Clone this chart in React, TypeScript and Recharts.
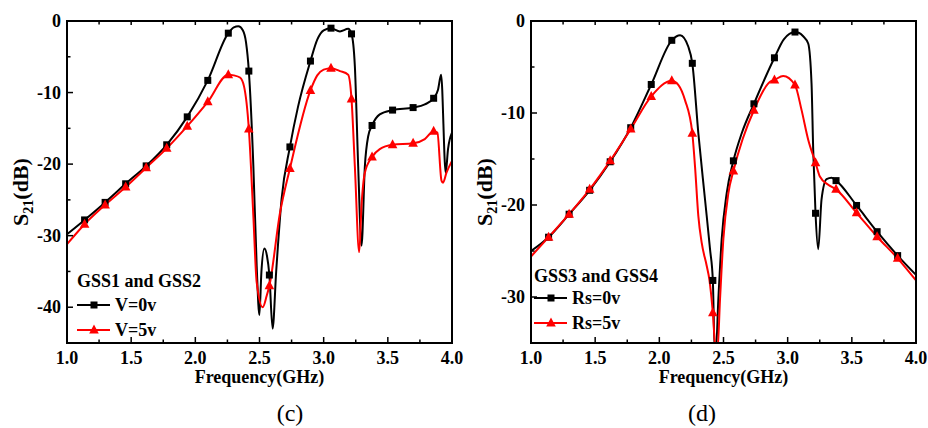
import React from 'react';
import { LineChart, Line, XAxis, YAxis } from 'recharts';

// ---------- data ----------
const markerFreqs = [1.137, 1.297, 1.457, 1.617, 1.777, 1.937, 2.097, 2.257, 2.417, 2.577, 2.737, 2.897, 3.057, 3.217, 3.377, 3.537, 3.697, 3.857];

// panel (c)
const cBlackF = [1.0, 1.137, 1.297, 1.457, 1.617, 1.777, 1.937, 2.097, 2.257, 2.3, 2.335, 2.37, 2.395, 2.417, 2.452, 2.478, 2.499, 2.515, 2.538, 2.558, 2.577, 2.602, 2.63, 2.672, 2.737, 2.8, 2.897, 2.95, 3.0, 3.057, 3.127, 3.191, 3.217, 3.243, 3.269, 3.295, 3.321, 3.347, 3.377, 3.437, 3.537, 3.697, 3.788, 3.857, 3.891, 3.915, 3.951, 3.969, 4.0];
const cBlackV = [-29.8, -27.8, -25.35, -22.75, -20.25, -17.3, -13.4, -8.3, -1.7, -0.9, -0.75, -1.3, -3.0, -7.0, -20.2, -34.2, -41.1, -35.0, -31.8, -32.8, -35.5, -43.0, -35.0, -24.9, -17.6, -12.0, -5.6, -2.6, -1.3, -1.0, -1.45, -1.1, -1.8, -6.3, -20.3, -31.4, -20.3, -16.1, -14.6, -13.05, -12.45, -12.1, -11.65, -10.8, -9.6, -7.5, -21.2, -17.9, -15.6];
const cRedF = [1.0, 1.137, 1.297, 1.457, 1.617, 1.777, 1.937, 2.097, 2.257, 2.3, 2.348, 2.379, 2.417, 2.452, 2.478, 2.525, 2.556, 2.577, 2.66, 2.737, 2.897, 2.95, 3.0, 3.057, 3.127, 3.191, 3.217, 3.243, 3.277, 3.295, 3.321, 3.377, 3.437, 3.537, 3.697, 3.788, 3.857, 3.886, 3.918, 3.93, 3.957, 4.0];
const cRedV = [-31.2, -28.4, -25.7, -23.2, -20.5, -17.8, -14.7, -11.3, -7.5, -7.6, -7.9, -9.1, -15.1, -27.2, -36.5, -40.0, -38.4, -37.0, -26.8, -20.6, -9.7, -7.6, -6.8, -6.6, -7.0, -7.5, -10.9, -20.3, -32.3, -25.8, -21.2, -19.0, -17.9, -17.3, -17.1, -16.5, -15.4, -15.6, -22.3, -22.6, -21.2, -19.55];

// panel (d)
const dBlackF = [1.0, 1.137, 1.297, 1.457, 1.617, 1.777, 1.937, 2.097, 2.162, 2.226, 2.257, 2.304, 2.356, 2.395, 2.417, 2.432, 2.44, 2.46, 2.486, 2.525, 2.577, 2.642, 2.737, 2.897, 2.97, 3.057, 3.09, 3.121, 3.16, 3.186, 3.199, 3.217, 3.238, 3.264, 3.303, 3.342, 3.377, 3.537, 3.697, 3.857, 4.0];
const dBlackV = [-25.0, -23.5, -21.0, -18.4, -15.3, -11.6, -6.9, -2.1, -1.55, -2.8, -4.6, -12.2, -19.4, -24.8, -28.2, -36, -36, -30.2, -23.7, -18.7, -15.2, -12.2, -9.0, -4.0, -2.0, -1.2, -1.3, -1.66, -2.45, -6.8, -14.0, -20.9, -24.8, -19.4, -17.2, -17.05, -17.35, -20.05, -22.9, -25.5, -27.6];
const dRedF = [1.0, 1.137, 1.297, 1.457, 1.617, 1.777, 1.937, 2.097, 2.149, 2.2, 2.257, 2.278, 2.304, 2.33, 2.369, 2.39, 2.417, 2.44, 2.452, 2.473, 2.499, 2.538, 2.577, 2.65, 2.737, 2.862, 2.897, 2.965, 3.057, 3.108, 3.16, 3.217, 3.251, 3.316, 3.377, 3.537, 3.697, 3.857, 4.0];
const dRedV = [-25.6, -23.5, -21.0, -18.3, -15.2, -11.75, -8.2, -6.5, -6.96, -8.6, -12.2, -15.8, -21.2, -24.1, -26.6, -28.1, -31.7, -36, -36, -30.2, -23.7, -18.7, -16.3, -12.8, -9.7, -6.6, -6.4, -5.98, -6.96, -9.66, -12.9, -15.4, -16.9, -17.8, -18.3, -20.85, -23.45, -25.8, -28.2];

const xMajor = [1, 1.5, 2, 2.5, 3, 3.5, 4];
const xMinor = [1.25, 1.75, 2.25, 2.75, 3.25, 3.75];
const cYMajor = [0, -10, -20, -30, -40];
const cYMinor = [-5, -15, -25, -35, -45];
const dYMajor = [0, -10, -20, -30];
const dYMinor = [-5, -15, -25, -35];

// ---------- layout ----------
const W = 464;
const H = 428;
const LEFT = 67;
const RIGHT = 452;
const TOP = 21;
const BOTTOM = 343;
const SERIF = '"Liberation Serif", "Times New Roman", serif';
const RED = '#ff0000';

const rows = (f: number[], v: number[]) =>
  f.map((x, i) => ({ f: x, v: v[i], m: markerFreqs.includes(x) }));

const Square = ({ cx, cy, s = 7 }: any) => (
  <rect x={cx - s / 2} y={cy - s / 2} width={s} height={s} fill="#000" />
);
const Tri = ({ cx, cy }: any) => (
  <polygon points={`${cx},${cy - 5.5} ${cx - 4.8},${cy + 3.5} ${cx + 4.8},${cy + 3.5}`} fill={RED} />
);

const blackDot = (p: any) =>
  p.payload && p.payload.m ? <Square key={`b${p.index}`} cx={p.cx} cy={p.cy} /> : <g key={`b${p.index}`} />;
const redDot = (p: any) =>
  p.payload && p.payload.m ? <Tri key={`r${p.index}`} cx={p.cx} cy={p.cy} /> : <g key={`r${p.index}`} />;

const XTick = (props: any) => {
  const { x, payload } = props;
  const v = payload.value;
  const major = xMajor.includes(v);
  return (
    <g>
      <line x1={x} x2={x} y1={BOTTOM} y2={BOTTOM - (major ? 6 : 3.5)} stroke="#000" strokeWidth={1.5} />
      <line x1={x} x2={x} y1={TOP} y2={TOP + (major ? 4 : 3.5)} stroke="#000" strokeWidth={1.5} />
      {major && (
        <text x={x} y={BOTTOM + 21} textAnchor="middle" fontSize={18} fontWeight="bold" fontFamily={SERIF} fill="#000">
          {v.toFixed(1)}
        </text>
      )}
    </g>
  );
};

const makeYTick = (major: number[]) => (props: any) => {
  const { y, payload } = props;
  const v = payload.value;
  const isMajor = major.includes(v);
  return (
    <g>
      <line x1={LEFT} x2={LEFT + (isMajor ? 6 : 3.5)} y1={y} y2={y} stroke="#000" strokeWidth={1.5} />
      {isMajor && (
        <text x={LEFT - 6} y={y + 6} textAnchor="end" fontSize={18} fontWeight="bold" fontFamily={SERIF} fill="#000">
          {v}
        </text>
      )}
    </g>
  );
};

const Panel = ({ blackRows, redRows, yDomain, yMajor, yMinor, title, name0, name1, legendX, legendY, legendDy, tag, tagX }: any) => {
  const yTicks = [...yMajor, ...yMinor].sort((a, b) => b - a);
  const xTicks = [...xMajor, ...xMinor].sort((a, b) => a - b);
  const YT = makeYTick(yMajor);
  return (
    <div style={{ position: 'relative', width: W, height: H }}>
      <LineChart width={W} height={H} margin={{ top: TOP, right: W - RIGHT, bottom: H - BOTTOM - 30, left: 0 }}>
        <XAxis
          dataKey="f"
          type="number"
          domain={[1, 4]}
          ticks={xTicks}
          interval={0}
          tick={<XTick />}
          tickLine={false}
          axisLine={false}
          height={30}
          allowDuplicatedCategory={false}
        />
        <YAxis
          type="number"
          domain={yDomain}
          ticks={yTicks}
          interval={0}
          tick={<YT />}
          tickLine={false}
          axisLine={false}
          width={LEFT}
          allowDataOverflow
        />
        <Line data={blackRows} dataKey="v" type="monotone" stroke="#000" strokeWidth={2} dot={blackDot} isAnimationActive={false} />
        <Line data={redRows} dataKey="v" type="monotone" stroke={RED} strokeWidth={2} dot={redDot} isAnimationActive={false} />
      </LineChart>
      <svg width={W} height={H} style={{ position: 'absolute', left: 0, top: 0, pointerEvents: 'none' }}>
        <rect x={LEFT} y={TOP} width={RIGHT - LEFT} height={BOTTOM - TOP} fill="none" stroke="#000" strokeWidth={2} />
        <text transform={`translate(28, 192) rotate(-90)`} textAnchor="middle" fontSize={22} fontWeight="bold" fontFamily={SERIF} fill="#000">
          S<tspan fontSize={14} dy={5}>21</tspan><tspan dy={-5}>(dB)</tspan>
        </text>
        <text x={(LEFT + RIGHT) / 2} y={383} textAnchor="middle" fontSize={18} fontWeight="bold" fontFamily={SERIF} fill="#000">
          Frequency(GHz)
        </text>
        <text x={legendX} y={legendY} fontSize={18} fontWeight="bold" fontFamily={SERIF} fill="#000">{title}</text>
        <line x1={legendX} x2={legendX + 33} y1={legendY + legendDy} y2={legendY + legendDy} stroke="#000" strokeWidth={2} />
        <Square cx={legendX + 17} cy={legendY + legendDy} />
        <text x={legendX + 38} y={legendY + legendDy + 6} fontSize={18} fontWeight="bold" fontFamily={SERIF} fill="#000">{name0}</text>
        <line x1={legendX} x2={legendX + 33} y1={legendY + legendDy + 25} y2={legendY + legendDy + 25} stroke={RED} strokeWidth={2} />
        <Tri cx={legendX + 17} cy={legendY + legendDy + 25} />
        <text x={legendX + 38} y={legendY + legendDy + 31} fontSize={18} fontWeight="bold" fontFamily={SERIF} fill="#000">{name1}</text>
        <text x={tagX} y={421} textAnchor="middle" fontSize={24} fontFamily={SERIF} fill="#000">{tag}</text>
      </svg>
    </div>
  );
}

export default function App() {
  return (
    <div style={{ position: 'absolute', left: 0, top: 0, width: 928, height: 428, background: '#fff', display: 'flex' }}>
      <Panel
        blackRows={rows(cBlackF, cBlackV)}
        redRows={rows(cRedF, cRedV)}
        yDomain={[-45, 0]}
        yMajor={cYMajor}
        yMinor={cYMinor}
        title="GSS1 and GSS2"
        name0="V=0v"
        name1="V=5v"
        legendX={77}
        legendY={287}
        legendDy={18}
        tag="(c)"
        tagX={290}
      />
      <Panel
        blackRows={rows(dBlackF, dBlackV)}
        redRows={rows(dRedF, dRedV)}
        yDomain={[-35, 0]}
        yMajor={dYMajor}
        yMinor={dYMinor}
        title="GSS3 and GSS4"
        name0="Rs=0v"
        name1="Rs=5v"
        legendX={70}
        legendY={282}
        legendDy={16}
        tag="(d)"
        tagX={238}
      />
    </div>
  );
}
